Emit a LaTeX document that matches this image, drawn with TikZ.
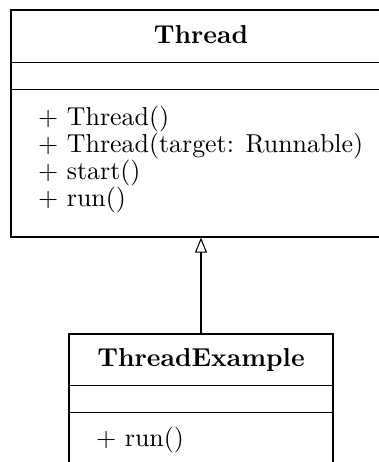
\documentclass[tikz,border=0pt]{standalone}
\usetikzlibrary{arrows.meta,fit}
\begin{document}
\begin{tikzpicture}[x=0.386pt, y=-0.386pt,
  classbox/.style={draw, inner sep=0pt},
  title/.style={anchor=base, inner sep=0pt, font=\bfseries},
  member/.style={anchor=base west, inner sep=0pt},
  inherit/.style={-{Triangle[open, length=5.8pt, width=4.6pt]}}]
  \useasboundingbox (0,0) rectangle (379,462);
  \clip (0,0) rectangle (379,462);

  % class Thread
  \node[classbox, fit={(11,10) (391,237)}] (thread) {};
  \draw (11,62.3) -- (391,62.3);
  \draw (11,89.3) -- (391,89.3);
  \node[title] (tname) at (201,43.3) {Thread};
  \node[member] (m1) at (37.6,125) {$+$ Thread()};
  \node[member] (m2) at (37.6,152) {$+$ Thread(target: Runnable)};
  \node[member] (m3) at (37.6,179) {$+$ start()};
  \node[member] (m4) at (37.6,206) {$+$ run()};

  % class ThreadExample
  \node[classbox, fit={(69,334) (333,520)}] (texample) {};
  \draw (69,385.7) -- (333,385.7);
  \draw (69,412.7) -- (333,412.7);
  \node[title] (ename) at (201,366) {ThreadExample};
  \node[member] (e1) at (95.6,446.7) {$+$ run()};

  % generalization
  \draw[inherit] (texample.north) -- (thread.south);
\end{tikzpicture}
\end{document}
